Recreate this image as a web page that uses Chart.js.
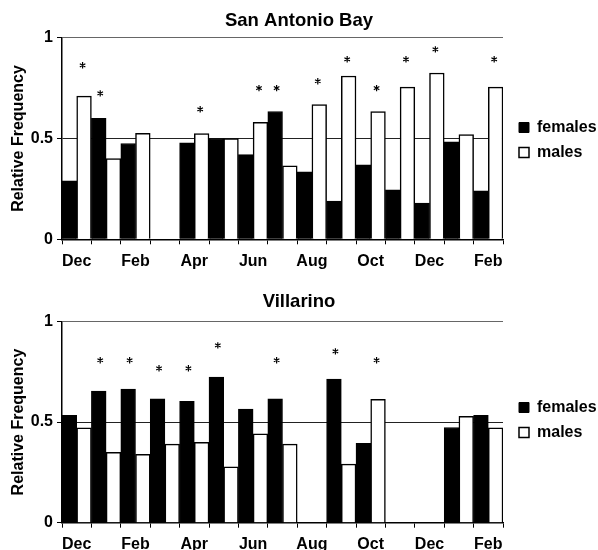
<!DOCTYPE html>
<html>
<head>
<meta charset="utf-8">
<title>Relative frequency of females and males</title>
<script src="https://cdn.jsdelivr.net/npm/chart.js@4.4.1/dist/chart.umd.min.js"></script>
<style>
  html, body { margin: 0; padding: 0; background: #fff; overflow: hidden; }
  .panel { position: absolute; left: 0; width: 598px; height: 280px; }
  #panelTop { top: 0; }
  #panelBottom { top: 280px; }
</style>
</head>
<body>
<div class="panel" id="panelTop"><canvas id="chartTop" width="598" height="280"></canvas></div>
<div class="panel" id="panelBottom"><canvas id="chartBottom" width="598" height="280"></canvas></div>

<script>
"use strict";

// months sampled, Dec through the Feb fifteen months later
const months = ['Dec', 'Jan', 'Feb', 'Mar', 'Apr', 'May', 'Jun', 'Jul', 'Aug', 'Sep', 'Oct', 'Nov', 'Dec', 'Jan', 'Feb'];
const yTicks = [0, 0.5, 1];

// San Antonio Bay
const sabFemales = [0.29, 0.60, 0.475, null, 0.478, 0.50, 0.42, 0.634, 0.335, 0.19, 0.37, 0.245, 0.18, 0.483, 0.24];
const sabMales = [0.71, 0.40, 0.526, null, 0.525, 0.50, 0.58, 0.364, 0.668, 0.81, 0.634, 0.755, 0.825, 0.52, 0.755];
const sabStars = [0.863, 0.724, null, null, 0.645, null, 0.75, 0.75, 0.784, 0.893, 0.75, 0.893, 0.942, null, 0.893];

// Villarino
const vilFemales = [0.534, 0.654, 0.664, 0.615, 0.603, 0.724, 0.565, 0.615, null, 0.714, 0.394, null, null, 0.473, 0.534];
const vilMales = [0.471, 0.349, 0.34, 0.39, 0.399, 0.278, 0.441, 0.39, null, 0.291, 0.613, null, null, 0.529, 0.471];
const vilStars = [null, 0.807, 0.807, 0.767, 0.767, 0.881, null, 0.807, null, 0.851, 0.807, null, null, null, null];

Chart.defaults.font.family = '"Liberation Sans", Arial, Helvetica, sans-serif';
Chart.defaults.color = '#000';

// asterisks over the months with a significant difference
const starPlugin = {
    id: 'stars',
    afterDatasetsDraw(chart, args, opts) {
        const x = chart.scales.x, y = chart.scales.y;
        const f = chart.data.datasets[0].data, m = chart.data.datasets[1].data;
        const w = x.width / months.length;
        const ctx = chart.ctx;
        ctx.save();
        ctx.strokeStyle = '#000';
        ctx.lineWidth = 1.2;
        opts.values.forEach((v, i) => {
            if (v === null) return;
            const cx = x.getPixelForValue(i) + (m[i] > f[i] ? 0.2 : -0.2) * w;
            const cy = y.getPixelForValue(v);
            ctx.beginPath();
            for (let a = 0; a < 3; a++) {
                const t = Math.PI / 2 + a * Math.PI / 3;
                ctx.moveTo(cx + 3.2 * Math.cos(t), cy - 3.2 * Math.sin(t));
                ctx.lineTo(cx - 3.2 * Math.cos(t), cy + 3.2 * Math.sin(t));
            }
            ctx.stroke();
        });
        ctx.restore();
    }
};

function makeChart(id, title, females, males, stars, titlePad, plotBottom, labelPad) {
    const data = {
        labels: months,
        datasets: [{
            label: 'females',
            data: females,
            backgroundColor: '#000',
            borderColor: '#000',
            borderWidth: 1
        },
        {
            label: 'males',
            data: males,
            backgroundColor: '#fff',
            borderColor: '#000',
            borderWidth: 1.5
        }]
    };

    const config = {
        type: 'bar',
        data: data,
        plugins: [starPlugin],
        options: {
            responsive: false,
            animation: false,
            devicePixelRatio: 1,
            layout: { padding: 0 },
            datasets: {
                bar: { categoryPercentage: 1, barPercentage: 1 }
            },
            plugins: {
                title: {
                    display: true,
                    text: title,
                    font: { size: 18.5, weight: 'bold' },
                    color: '#000',
                    padding: titlePad
                },
                legend: {
                    position: 'right',
                    maxWidth: 88,
                    labels: {
                        boxWidth: 10,
                        boxHeight: 10,
                        padding: 9,
                        color: '#000',
                        font: { size: 16, weight: 'bold' }
                    }
                },
                tooltip: { enabled: false },
                stars: { values: stars }
            },
            scales: {
                x: {
                    grid: {
                        offset: true,
                        drawOnChartArea: false,
                        drawTicks: true,
                        tickLength: 5,
                        tickColor: '#000'
                    },
                    border: { color: '#000', width: 1.5 },
                    ticks: {
                        autoSkip: false,
                        maxRotation: 0,
                        padding: labelPad,
                        font: { size: 16, weight: 'bold' },
                        callback: (v, i) => (i % 2 === 0 ? months[i] : '')
                    },
                    afterFit: s => { s.height = 280 - plotBottom; }
                },
                y: {
                    min: 0,
                    max: 1,
                    afterBuildTicks: s => { s.ticks = yTicks.map(v => ({ value: v })); },
                    grid: {
                        color: c => (c.tick && c.tick.value === 1 ? '#666' : '#222'),
                        lineWidth: 1,
                        tickLength: 5,
                        tickColor: '#000'
                    },
                    border: { color: '#000', width: 1.5 },
                    ticks: {
                        padding: 4,
                        font: { size: 16, weight: 'bold' },
                        callback: v => String(v)
                    },
                    title: {
                        display: true,
                        text: 'Relative Frequency',
                        font: { size: 16, weight: 'bold' },
                        padding: { top: 9, bottom: 0 }
                    },
                    afterFit: s => { s.width = 62; }
                },
                // spacer between the plot and the legend
                yGap: {
                    type: 'linear',
                    axis: 'y',
                    position: 'right',
                    grid: { display: false },
                    border: { display: false },
                    ticks: { display: false },
                    afterFit: s => { s.width = 7; }
                }
            }
        }
    };

    return new Chart(document.getElementById(id), config);
}

makeChart('chartTop', 'San Antonio Bay', sabFemales, sabMales, sabStars,
    { top: 9.5, bottom: 6 }, 239.3, 8);
makeChart('chartBottom', 'Villarino', vilFemales, vilMales, vilStars,
    { top: 10.5, bottom: 8.7 }, 242.7, 7);
</script>
</body>
</html>
